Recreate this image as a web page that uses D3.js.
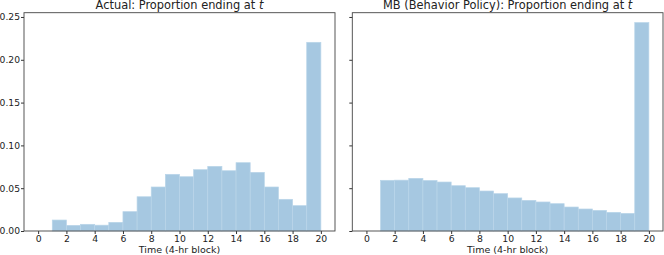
<!DOCTYPE html>
<html>
<head>
<meta charset="utf-8">
<script src="https://cdn.jsdelivr.net/npm/d3@7"></script>
<style>
  body { margin: 0; background: #fff; }
  svg text { font-family: "DejaVu Sans", sans-serif; fill: #222; }
</style>
</head>
<body>
<svg id="chart" width="664" height="255"></svg>
<script>
// bins are [t, t+1) for t = 0..19
const binStarts = d3.range(0, 20);
const actualValues = [0, 0.0128, 0.0066, 0.0078, 0.0068, 0.0101, 0.0226, 0.0400, 0.0514, 0.0662,
  0.0634, 0.0716, 0.0755, 0.0704, 0.0798, 0.0685, 0.0514, 0.0370, 0.0296, 0.2204];
const mbValues = [0, 0.0592, 0.0594, 0.0615, 0.0590, 0.0572, 0.0529, 0.0506, 0.0467, 0.0436,
  0.0386, 0.0358, 0.0339, 0.0319, 0.0280, 0.0257, 0.0241, 0.0218, 0.0206, 0.2434];
const xTicks = [0, 2, 4, 6, 8, 10, 12, 14, 16, 18, 20];
const yTicks = [0, 0.05, 0.10, 0.15, 0.20, 0.25];
const titles = ["Actual: Proportion ending at ", "MB (Behavior Policy): Proportion ending at "];
const xLabel = "Time (4-hr block)";

const svg = d3.select("#chart");
const plotTop = 12.7, plotBottom = 231;

const panels = [
  { left: 24, right: 335, values: actualValues, title: titles[0], showY: true },
  { left: 352.3, right: 663, values: mbValues, title: titles[1], showY: false }
];

const y = d3.scaleLinear().domain([0, 0.255]).range([plotBottom, plotTop]);

panels.forEach(p => {
  const x = d3.scaleLinear().domain([-1, 21]).range([p.left, p.right]);
  const g = svg.append("g");

  // histogram bars
  g.selectAll("rect")
    .data(binStarts.map((t, i) => ({ t: t, v: p.values[i] })).filter(d => d.v > 0))
    .enter()
    .append("rect")
    .attr("x", d => x(d.t))
    .attr("y", d => y(d.v))
    .attr("width", d => x(d.t + 1) - x(d.t))
    .attr("height", d => plotBottom - y(d.v))
    .attr("fill", "#a6c8e1")
    .attr("stroke", "#b9d5e9")
    .attr("stroke-width", 0.7);

  // x axis
  const xAxis = g.append("g")
    .attr("transform", "translate(0," + plotBottom + ")")
    .call(d3.axisBottom(x).tickValues(xTicks).tickSize(3).tickPadding(1.5).tickFormat(d3.format("d")));
  xAxis.select(".domain").remove();
  xAxis.selectAll("line").attr("stroke", "#333");
  xAxis.selectAll("text").attr("font-size", "9.3px").attr("fill", "#222");

  // y axis
  const yAxis = g.append("g")
    .attr("transform", "translate(" + p.left + ",0)")
    .call(d3.axisLeft(y).tickValues(yTicks).tickSize(3).tickPadding(1)
      .tickFormat(p.showY ? d3.format(".2f") : ""));
  yAxis.select(".domain").remove();
  yAxis.selectAll("line").attr("stroke", "#333");
  yAxis.selectAll("text").attr("font-size", "9.2px").attr("fill", "#222");

  // frame
  g.append("rect")
    .attr("x", p.left).attr("y", plotTop)
    .attr("width", p.right - p.left).attr("height", plotBottom - plotTop)
    .attr("fill", "none").attr("stroke", "#444").attr("stroke-width", 0.9);

  // title with italic t
  const title = g.append("text")
    .attr("x", (p.left + p.right) / 2)
    .attr("y", 9.2)
    .attr("text-anchor", "middle")
    .attr("font-size", "11.4px");
  title.append("tspan").text(p.title);
  title.append("tspan").attr("font-style", "italic").text("t");

  g.append("text")
    .attr("x", (p.left + p.right) / 2)
    .attr("y", 252.5)
    .attr("text-anchor", "middle")
    .attr("font-size", "9.5px")
    .text(xLabel);
});
</script>
</body>
</html>
